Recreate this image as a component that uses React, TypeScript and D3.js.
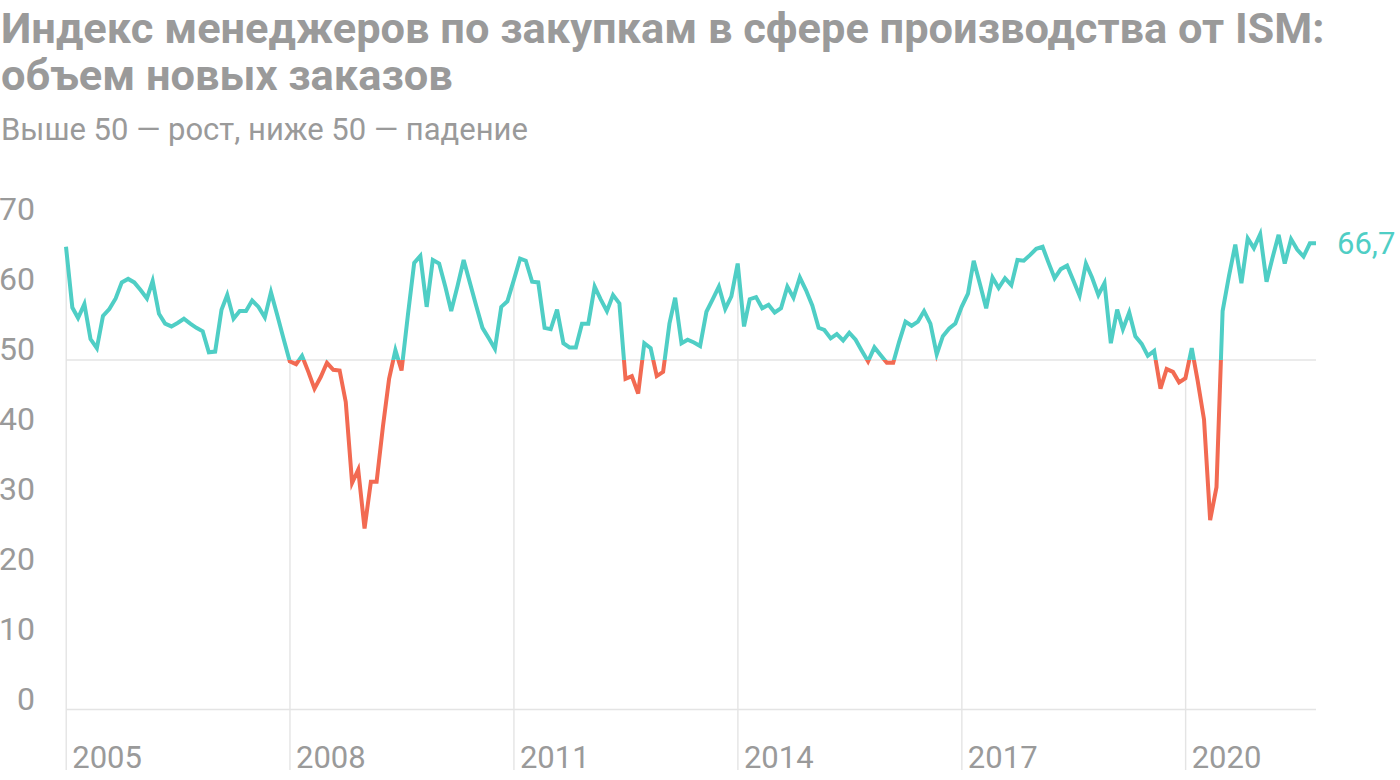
import React from "react";
import * as d3 from "d3";

// Monthly ISM new orders index, Dec 2004 .. Sep 2021
const START_YEAR = 2004;
const START_MONTH = 11; // December
const values: number[] = [
  66.2, 57.5, 56.0, 58.0, 53.0, 51.7, 56.3, 57.3, 58.8, 61.1, 61.6, 61.1,
  60.0, 58.8, 61.3, 56.6, 55.2, 54.8, 55.3, 55.9, 55.2, 54.6, 54.1, 51.1,
  51.2, 57.2, 59.3, 55.9, 57.0, 57.0, 58.5, 57.6, 56.1, 59.7, 56.4, 53.1,
  49.8, 49.4, 50.6, 48.3, 45.9, 47.6, 49.6, 48.6, 48.5, 44.0, 32.4, 34.3,
  25.9, 32.6, 32.6, 40.5, 47.3, 51.4, 48.5, 56.4, 63.9, 64.9, 57.6, 64.3,
  63.8, 60.4, 57.0, 60.6, 64.3, 61.0, 57.8, 54.6, 53.1, 51.6, 57.6, 58.4,
  61.4, 64.5, 64.2, 61.2, 61.1, 54.6, 54.4, 57.2, 52.4, 51.8, 51.8, 55.2,
  55.2, 60.5, 58.7, 57.0, 59.3, 58.1, 47.3, 47.7, 45.2, 52.4, 51.7, 47.7,
  48.3, 55.2, 58.9, 52.4, 52.9, 52.5, 52.0, 56.9, 58.7, 60.5, 57.3, 59.1,
  63.8, 54.8, 58.7, 59.0, 57.4, 57.9, 56.8, 57.4, 60.5, 58.9, 61.8, 60.0,
  57.8, 54.6, 54.3, 53.1, 53.7, 52.8, 53.9, 52.9, 51.3, 49.8, 51.8, 50.7,
  49.6, 49.6, 52.6, 55.5, 54.9, 55.5, 57.0, 55.2, 50.8, 53.4, 54.5, 55.2,
  57.6, 59.5, 64.2, 60.8, 57.4, 61.8, 60.3, 61.7, 60.7, 64.3, 64.2, 65.0,
  65.9, 66.2, 64.0, 61.7, 63.0, 63.5, 61.4, 59.2, 63.8, 61.8, 59.3, 61.0,
  52.4, 57.2, 54.4, 56.8, 53.4, 52.3, 50.6, 51.3, 45.9, 48.7, 48.3, 46.8,
  47.4, 51.7, 47.0, 41.5, 27.1, 31.8, 57.0, 62.0, 66.5, 61.0, 67.4, 66.0,
  68.0, 61.2, 64.5, 67.9, 63.8, 67.3, 65.8, 64.8, 66.7, 66.7,
];

const tickYears: number[] = [2005, 2008, 2011, 2014, 2017, 2020];
const yTicks: number[] = [0, 10, 20, 30, 40, 50, 60, 70];
const gridValues: number[] = [0, 50];
const THRESHOLD = 50;

const TITLE_1 = "Индекс менеджеров по закупкам в сфере производства от ISM:";
const TITLE_2 = "объем новых заказов";
const SUBTITLE = "Выше 50 — рост, ниже 50 — падение";

const UP = "#4fcec5";
const DOWN = "#f26a52";
const GRID = "#e4e4e4";
const TEXT = "#9a9a9a";

export default function App() {
  const W = 1400;
  const H = 780;
  const dates = values.map((_, i) => new Date(START_YEAR, START_MONTH + i + 1, 0));
  const data = values.map((v, i) => ({ date: dates[i], v }));

  const x = d3
    .scaleTime()
    .domain([dates[0], dates[dates.length - 1]])
    .range([66, 1316]);
  const y = d3.scaleLinear().domain([0, 70]).range([709.5, 220.2]);

  const line = d3
    .line<{ date: Date; v: number }>()
    .x((d) => x(d.date))
    .y((d) => y(d.v));
  const path = line(data) || "";

  const x0 = x.range()[0];
  const x1 = x.range()[1];
  const yT = y(THRESHOLD);
  const bottom = 770;

  const last = data[data.length - 1];
  const lastLabel = d3.format(".1f")(last.v).replace(".", ",");

  const yearLines = tickYears.map((yr) => {
    const d = new Date(yr, 0, 1);
    const idx = d3.bisector((p: { date: Date }) => p.date).center(data, d);
    return { yr, x: x(d), top: y(data[idx].v) };
  });

  const font = "Roboto, 'Noto Sans', sans-serif";

  return (
    <svg
      width={W}
      height={H}
      style={{ position: "absolute", left: 0, top: 0, background: "#fff" }}
      fontFamily={font}
    >
      <defs>
        <clipPath id="above">
          <rect x={0} y={0} width={W} height={yT} />
        </clipPath>
        <clipPath id="below">
          <rect x={0} y={yT} width={W} height={H - yT} />
        </clipPath>
      </defs>

      <text x={1} y={43} fontSize={43.4} fontWeight={700} fill={TEXT}>
        {TITLE_1}
      </text>
      <text x={1} y={90} fontSize={43.4} fontWeight={700} fill={TEXT}>
        {TITLE_2}
      </text>
      <text x={1} y={140} fontSize={31} fill={TEXT}>
        {SUBTITLE}
      </text>

      {gridValues.map((g) => (
        <line key={g} x1={x0} x2={x1} y1={y(g)} y2={y(g)} stroke={GRID} strokeWidth={1.6} />
      ))}
      {yearLines.map((g) => (
        <line key={g.yr} x1={g.x} x2={g.x} y1={g.top} y2={bottom} stroke={GRID} strokeWidth={1.4} />
      ))}

      <path d={path} fill="none" stroke={UP} strokeWidth={4} clipPath="url(#above)" />
      <path d={path} fill="none" stroke={DOWN} strokeWidth={4} clipPath="url(#below)" />

      {yTicks.map((t) => (
        <text key={t} x={35} y={y(t)} fontSize={32} fill={TEXT} textAnchor="end">
          {t}
        </text>
      ))}
      {yearLines.map((g) => (
        <text key={g.yr} x={g.x + 6} y={768} fontSize={31} fill={TEXT}>
          {g.yr}
        </text>
      ))}

      <text x={x1 + 21} y={y(last.v) + 11} fontSize={31} fill={UP}>
        {lastLabel}
      </text>
    </svg>
  );
}
